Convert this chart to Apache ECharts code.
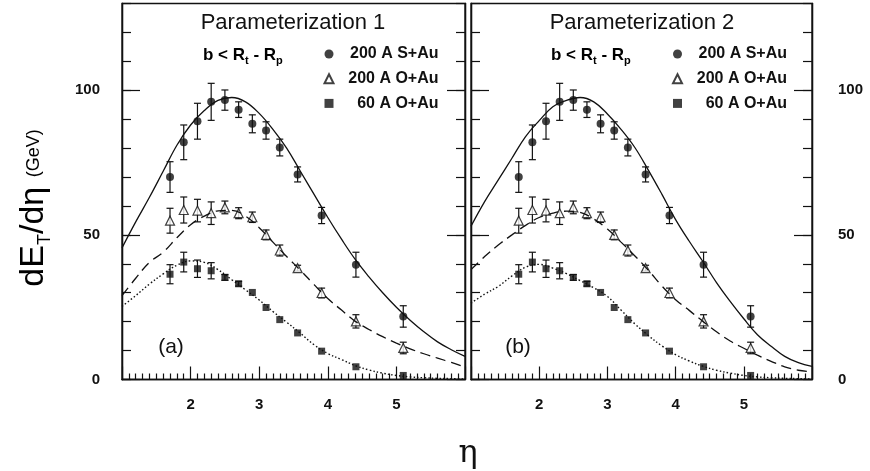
<!DOCTYPE html>
<html>
<head>
<meta charset="utf-8">
<script src="https://cdn.jsdelivr.net/npm/echarts@6.0.0/dist/echarts.min.js"></script>
<style>
  html, body { margin: 0; background: #fff; }
  #chart { width: 870px; height: 471px; }
</style>
</head>
<body>
<div id="chart"></div>
<script>
// measured points (same data in both panels)
const eta = [1.7, 1.9, 2.1, 2.3, 2.5, 2.7, 2.9, 3.1, 3.3, 3.56, 3.91, 4.41, 5.1];
const sAu200 = [70, 82, 89.3, 96, 96.6, 93.3, 88.4, 86.1, 80.2, 70.9, 56.7, 39.7, 21.8];
const sAu200Err = [5.3, 6, 6.2, 6.4, 3.5, 2.7, 3.1, 3, 2.9, 2.6, 2.8, 4.3, 3.7];
const oAu200 = [54.9, 58.6, 58.4, 57.5, 59.5, 57.5, 56.1, 50, 44.6, 38.5, 29.9, 20.1, 10.9];
const oAu200Err = [4.3, 4.5, 3.9, 3.9, 2.2, 1.9, 1.8, 1.7, 1.9, 1, 1.7, 2.3, 2];
const oAu60 = [36.4, 40.6, 38.3, 37.6, 35.3, 33.1, 30.1, 24.9, 20.7, 16.1, 9.8, 4.4, 1.4];
const oAu60Err = [3.3, 3.4, 3, 2.8, 1, 0.8, 0, 0, 0, 0, 0, 0, 0];

// model curves
const curveEta = [1.0, 1.2, 1.4, 1.6, 1.8, 2.0, 2.2, 2.4, 2.6, 2.8, 3.0, 3.2, 3.4, 3.6, 3.8,
  4.0, 4.2, 4.4, 4.6, 4.8, 5.0, 5.2, 5.4, 5.6, 5.8, 6.0];
const p1Solid = [45.5, 54.5, 63, 72, 81, 88, 93, 96.5, 97.5, 96, 92, 86.5, 80, 72, 64,
  56, 48.5, 41.5, 35.5, 30, 25, 20.5, 16.5, 13, 10.3, 8];
const p1Dashed = [29, 35, 40.5, 44, 49, 53.5, 56.5, 58.3, 58.5, 56.5, 52.5, 47.5, 42.5, 37.8, 32.8,
  28, 24, 20.1, 17.3, 14.8, 12.6, 10.6, 8.9, 7.4, 5.9, 4.3];
const p1Dotted = [25.3, 29, 33, 36.5, 39.5, 41, 40.5, 38, 34.5, 31, 27.5, 23.5, 19.8, 16, 12,
  9, 6.9, 4.8, 3.3, 2.2, 1.4, 0.9, 0.6, 0.4, 0.3, 0.2];
const p2Solid = [53, 61.5, 69, 76.5, 84, 89.5, 94.3, 96.5, 97.5, 96, 91.8, 86.5, 80.3, 72.4, 64,
  55.3, 47.8, 40.8, 33.5, 27, 21, 15.5, 11.5, 8, 5.8, 4.5];
const p2Dashed = [38, 42.5, 46.5, 50, 53.3, 56, 57.5, 58.2, 57.8, 55.5, 52, 47.5, 42.8, 37.8, 32.3,
  27.6, 23.9, 20.1, 16.5, 13.3, 10.8, 8.4, 6.3, 4.4, 3.2, 2.6];
const p2Dotted = [26.4, 29.5, 32.2, 35.8, 38.8, 39.8, 38.5, 36.6, 34.2, 31.7, 28.7, 24, 19.3, 15.2, 11.6,
  8.6, 6.4, 4.6, 3.2, 2.2, 1.4, 0.9, 0.6, 0.4, 0.3, 0.2];

const seriesNames = ['200 A S+Au', '200 A O+Au', '60 A O+Au'];
const panelTitles = ['Parameterization 1', 'Parameterization 2'];
const panelTags = ['(a)', '(b)'];
const xLabels = [2, 3, 4, 5];
const yLabels = [0, 50, 100];

const ink = '#111';
const font = '"Liberation Sans", Arial, sans-serif';

const pairs = (xs, ys) => xs.map((x, i) => [x, ys[i]]);
const errRows = (ys, errs) => eta
  .map((x, i) => [x, ys[i] - errs[i], ys[i] + errs[i]])
  .filter((r, i) => errs[i] > 0);

function errorBar(params, api) {
  const x = api.value(0);
  const lo = api.coord([x, api.value(1)]);
  const hi = api.coord([x, api.value(2)]);
  const hw = 3.5;
  const style = { stroke: ink, lineWidth: 1.2 };
  return {
    type: 'group',
    children: [
      { type: 'line', shape: { x1: lo[0], y1: lo[1], x2: hi[0], y2: hi[1] }, style },
      { type: 'line', shape: { x1: hi[0] - hw, y1: hi[1], x2: hi[0] + hw, y2: hi[1] }, style },
      { type: 'line', shape: { x1: lo[0] - hw, y1: lo[1], x2: lo[0] + hw, y2: lo[1] }, style }
    ]
  };
}

const panels = [
  { left: 122, width: 343, curves: [p1Solid, p1Dashed, p1Dotted] },
  { left: 471, width: 341, curves: [p2Solid, p2Dashed, p2Dotted] }
];

const grids = [], xAxes = [], yAxes = [], series = [];
const lineTypes = ['solid', [10, 6], [1.5, 2.2]];
const tickStyle = { color: ink, width: 1.2 };

panels.forEach((p, gi) => {
  grids.push({ left: p.left, width: p.width, top: 3.5, height: 376, show: true,
    borderColor: ink, borderWidth: 1.3 });

  xAxes.push({
    type: 'value', gridIndex: gi, min: 1, max: 6, interval: 1,
    axisLine: { lineStyle: { color: ink, width: 1.3 } },
    axisTick: { inside: true, length: 13, lineStyle: tickStyle },
    minorTick: { show: true, splitNumber: 10, length: 6, lineStyle: tickStyle },
    axisLabel: { customValues: xLabels, margin: 18, color: ink, fontSize: 15,
      fontWeight: 'bold', fontFamily: font },
    splitLine: { show: false }, minorSplitLine: { show: false }
  });

  ['left', 'right'].forEach(side => {
    const showLabels = side === 'left' ? gi === 0 : gi === 1;
    const base = { type: 'value', gridIndex: gi, position: side, min: 0, max: 130, interval: 10,
      splitLine: { show: false },
      axisLine: { show: true, onZero: false, lineStyle: { color: ink, width: 1.3 } } };
    yAxes.push(Object.assign({}, base, {
      axisTick: { inside: true, length: 9, lineStyle: tickStyle },
      axisLabel: { show: false }
    }));
    yAxes.push(Object.assign({}, base, {
      axisTick: { inside: true, length: 18, customValues: yLabels, lineStyle: tickStyle },
      axisLabel: { show: showLabels, customValues: yLabels, margin: side === 'left' ? 22 : 26,
        color: ink, fontSize: 15, fontWeight: 'bold', fontFamily: font }
    }));
  });

  const yIdx = gi * 4;
  p.curves.forEach((ys, k) => {
    series.push({
      type: 'line', xAxisIndex: gi, yAxisIndex: yIdx, data: pairs(curveEta, ys),
      smooth: 0.4, showSymbol: false, silent: true,
      lineStyle: { color: ink, width: k === 2 ? 1.4 : 1.3, type: lineTypes[k] }
    });
  });

  [[sAu200, sAu200Err], [oAu200, oAu200Err], [oAu60, oAu60Err]].forEach(([ys, errs]) => {
    series.push({
      type: 'custom', xAxisIndex: gi, yAxisIndex: yIdx, renderItem: errorBar,
      data: errRows(ys, errs), encode: { x: 0, y: [1, 2] }, silent: true
    });
  });

  series.push({ name: seriesNames[0], type: 'scatter', xAxisIndex: gi, yAxisIndex: yIdx,
    data: pairs(eta, sAu200), symbol: 'circle', symbolSize: 8,
    itemStyle: { color: ink } });
  series.push({ name: seriesNames[1], type: 'scatter', xAxisIndex: gi, yAxisIndex: yIdx,
    data: pairs(eta, oAu200), symbol: 'triangle', symbolSize: 9,
    itemStyle: { color: '#fff', borderColor: ink, borderWidth: 1.2 } });
  series.push({ name: seriesNames[2], type: 'scatter', xAxisIndex: gi, yAxisIndex: yIdx,
    data: pairs(eta, oAu60), symbol: 'rect', symbolSize: 7,
    itemStyle: { color: ink } });
});

const legendBase = {
  orient: 'vertical', top: 46, itemWidth: 9, itemHeight: 9, itemGap: 8.7, padding: 0,
  selectedMode: false, data: seriesNames,
  formatter: n => '{r|' + n + '}',
  textStyle: { rich: { r: { width: 100, align: 'right', color: ink, fontSize: 16,
    fontWeight: 'bold', fontFamily: font, lineHeight: 18 } } }
};

const subRich = {
  m: { fontSize: 17, fontFamily: font, fontWeight: 'bold', color: ink, lineHeight: 22 },
  s: { fontSize: 11, fontFamily: font, fontWeight: 'bold', color: ink, lineHeight: 22,
    verticalAlign: 'bottom' }
};

const graphic = [];
[[293, 203, 171], [642, 551, 518]].forEach(([titleX, condX, tagX], i) => {
  graphic.push({ type: 'text', x: titleX, y: 23, style: { text: panelTitles[i], fill: ink,
    font: '22px ' + font, align: 'center', verticalAlign: 'middle' } });
  graphic.push({ type: 'text', x: condX, y: 55, style: {
    text: '{m|b < R}{s|t}{m| - R}{s|p}', rich: subRich,
    align: 'left', verticalAlign: 'middle' } });
  graphic.push({ type: 'text', x: tagX, y: 347, style: { text: panelTags[i], fill: ink,
    font: '21px ' + font, align: 'center', verticalAlign: 'middle' } });
});
graphic.push({ type: 'text', x: 34, y: 208, rotation: Math.PI / 2, style: {
  text: '{big|dE}{sub|T}{big|/dη }{u|(GeV)}',
  align: 'center', verticalAlign: 'middle',
  rich: {
    big: { fontSize: 34, fontFamily: font, color: ink, lineHeight: 40 },
    sub: { fontSize: 18, fontFamily: font, color: ink, lineHeight: 40, verticalAlign: 'bottom' },
    u: { fontSize: 18, fontFamily: font, color: ink, lineHeight: 40, verticalAlign: 'middle' }
  } } });
graphic.push({ type: 'text', x: 468, y: 454, style: { text: 'η', fill: ink,
  font: '32px "DejaVu Serif", serif', align: 'center', verticalAlign: 'middle' } });

const chart = echarts.init(document.getElementById('chart'), null, { renderer: 'canvas' });
chart.setOption({
  animation: false,
  backgroundColor: '#fff',
  grid: grids,
  xAxis: xAxes,
  yAxis: yAxes,
  legend: [
    Object.assign({}, legendBase, { left: 323.5 }),
    Object.assign({}, legendBase, { left: 672 })
  ],
  graphic: graphic,
  series: series
});
</script>
</body>
</html>
